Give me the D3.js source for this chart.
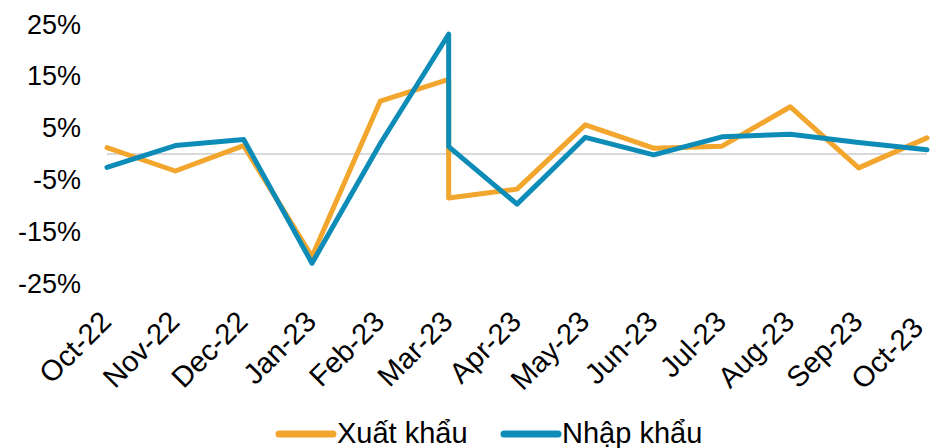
<!DOCTYPE html>
<html>
<head>
<meta charset="utf-8">
<script src="https://cdn.jsdelivr.net/npm/d3@7"></script>
<style>
  html, body { margin: 0; padding: 0; background: #fff; }
  svg { display: block; font-family: Arial, "Liberation Sans", sans-serif; }
</style>
</head>
<body>
<svg id="chart" width="931" height="448"></svg>
<script>
// Axis categories
const categories = ["Oct-22","Nov-22","Dec-22","Jan-23","Feb-23","Mar-23","Apr-23","May-23","Jun-23","Jul-23","Aug-23","Sep-23","Oct-23"];
// Point sequence (Mar-23 appears twice: the series jump vertically there)
const pointCategories = ["Oct-22","Nov-22","Dec-22","Jan-23","Feb-23","Mar-23","Mar-23","Apr-23","May-23","Jun-23","Jul-23","Aug-23","Sep-23","Oct-23"];
// Series values (%)
const exportValues = [1.2, -3.3, 1.6, -19.8, 10.2, 14.4, -8.5, -6.8, 5.6, 1.1, 1.5, 9.1, -2.7, 3.1];
const importValues = [-2.6, 1.6, 2.8, -21.1, 2.0, 23.1, 1.4, -9.7, 3.2, -0.2, 3.3, 3.8, 2.2, 0.8];
const yTicks = [-25, -15, -5, 5, 15, 25];
const seriesNames = ["Xuất khẩu", "Nhập khẩu"];
const seriesColors = ["#F2A62D", "#0E8CB8"];

const svg = d3.select("#chart");
const x = d3.scalePoint().domain(categories).range([107, 927]);
const y = d3.scaleLinear().domain([-25, 25]).range([283.4, 24.4]);

// zero line
svg.append("line")
  .attr("x1", x.range()[0]).attr("x2", x.range()[1])
  .attr("y1", y(0)).attr("y2", y(0))
  .attr("stroke", "#D9D9D9").attr("stroke-width", 2);

// y axis
const yAxis = d3.axisLeft(y).tickValues(yTicks).tickFormat(d => d + "%").tickSize(0).tickPadding(0);
const gy = svg.append("g").attr("transform", "translate(81,0)").call(yAxis);
gy.select(".domain").remove();
gy.selectAll("text").attr("font-size", 27).attr("fill", "#000").attr("font-family", "Arial, 'Liberation Sans', sans-serif");

// x axis
const xAxis = d3.axisBottom(x).tickSize(0).tickPadding(0);
const gx = svg.append("g").attr("transform", "translate(0,296)").call(xAxis);
gx.select(".domain").remove();
const lastCat = categories[categories.length - 1];
gx.selectAll("text")
  .attr("font-size", 29).attr("fill", "#000").attr("font-family", "Arial, 'Liberation Sans', sans-serif")
  .attr("text-anchor", "end")
  .attr("dy", "0.7em")
  .attr("transform", d => d === lastCat ? "translate(-17,19) rotate(-45)" : "translate(-9,13) rotate(-45)");

// lines
const line = d3.line().x(d => x(d[0])).y(d => y(d[1]));
[exportValues, importValues].forEach((vals, i) => {
  const pts = pointCategories.map((c, j) => [c, vals[j]]);
  svg.append("path")
    .datum(pts)
    .attr("d", line)
    .attr("fill", "none")
    .attr("stroke", seriesColors[i])
    .attr("stroke-width", 5)
    .attr("stroke-linejoin", "round")
    .attr("stroke-linecap", "round");
});

// legend
const legendX = [279, 504];
seriesNames.forEach((name, i) => {
  const g = svg.append("g").attr("transform", `translate(${legendX[i]},434)`);
  g.append("line").attr("x1", 0).attr("x2", 54).attr("y1", 0).attr("y2", 0)
    .attr("stroke", seriesColors[i]).attr("stroke-width", 7).attr("stroke-linecap", "round");
  g.append("text").attr("x", 58).attr("y", 9).attr("font-size", 29).attr("fill", "#000")
    .text(name);
});
</script>
</body>
</html>
